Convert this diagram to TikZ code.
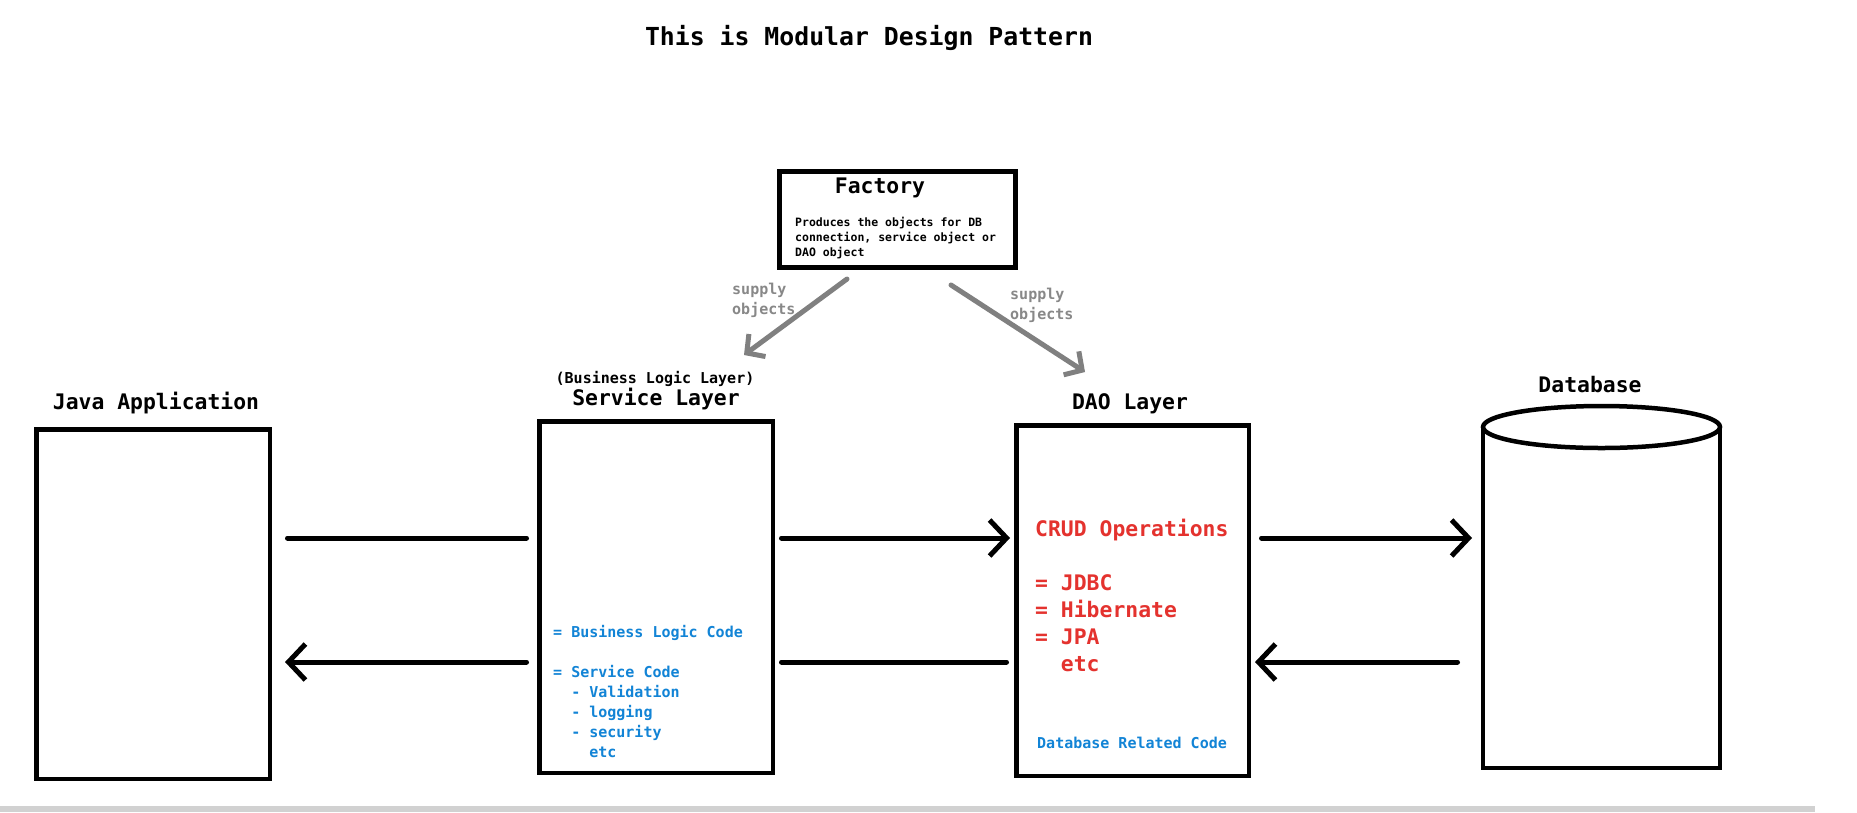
\documentclass[tikz,border=0pt]{standalone}
\usepackage{fontspec}
\newfontfamily\cons{DejaVu Sans Mono}
\usetikzlibrary{arrows.meta}
\definecolor{txtblue}{RGB}{18,132,214}
\definecolor{txtred}{RGB}{228,50,46}
\definecolor{arrgray}{RGB}{128,128,128}
\definecolor{lblgray}{RGB}{136,136,136}
\begin{document}
\begin{tikzpicture}[x=1pt,y=-1pt,
  box/.style={draw=black,line width=4.5pt,inner sep=0pt},
  conn/.style={draw=black,line width=5pt,line cap=round},
  head/.style={-{Straight Barb[length=17pt,width=36pt]}},
  gconn/.style={draw=arrgray,line width=5pt,line cap=round,-{Straight Barb[length=13pt,width=28pt]}},
  lbl/.style={font=\cons\bfseries\fontsize{21.4}{26}\selectfont,inner sep=0pt},
  small/.style={font=\cons\bfseries\fontsize{15}{20}\selectfont,inner sep=0pt,align=left},
]
\useasboundingbox (0,0) rectangle (1857,812);
\fill[white] (0,0) rectangle (1857,812);
\fill[black!18] (0,806) rectangle (1815,812);

% title
\node[inner sep=0pt,font=\cons\bfseries\fontsize{24.8}{30}\selectfont] (title) at (869,38) {This is Modular Design Pattern};

% boxes
\node[box,minimum width=233.5pt,minimum height=349.5pt] (java) at (153,604) {};
\node[box,minimum width=233.5pt,minimum height=351.5pt] (svc) at (656,597) {};
\node[box,minimum width=232.5pt,minimum height=350.5pt] (dao) at (1132.5,600.5) {};
\node[box,line width=5pt,minimum width=236pt,minimum height=96pt] (factory) at (897.5,219.5) {};
\node[inner sep=0pt,outer sep=0pt,minimum width=237pt,minimum height=341pt] (db) at (1601.5,597.5) {};
\draw[line width=4.5pt] (db.north west) -- (db.south west) -- (db.south east) -- (db.north east);
\draw[line width=4.5pt] (db.north) ellipse [x radius=118.5, y radius=21];

% labels above boxes
\node[lbl] (javalbl) at (156,403) {Java Application};
\node[small] (bll) at (655,379) {(Business Logic Layer)};
\node[lbl] (svclbl) at (656,399) {Service Layer};
\node[lbl] (daolbl) at (1130,404) {DAO Layer};
\node[lbl] (dblbl) at (1590,385) {Database};

% factory text
\node[lbl] (factlbl) at (880,188) {Factory};
\node[inner sep=0pt,anchor=west,align=left,font=\cons\bfseries\fontsize{11.5}{15}\selectfont] (factdesc) at (795,238)
  {Produces the objects for DB\\connection, service object or\\DAO object};

% service text
\node[small,anchor=west,text=txtblue] (svctxt) at (553,691)
  {= Business Logic Code\\[20pt]= Service Code\\\phantom{xx}- Validation\\\phantom{xx}- logging\\\phantom{xx}- security\\\phantom{xxxx}etc};

% dao text
\node[inner sep=0pt,anchor=west,align=left,text=txtred,font=\cons\bfseries\fontsize{21.4}{27}\selectfont] (daotxt) at (1035,595.5)
  {CRUD Operations\\[27pt]= JDBC\\= Hibernate\\= JPA\\\phantom{xx}etc};
\node[small,anchor=west,text=txtblue] (daotxt2) at (1037,743) {Database Related Code};

% rows
\coordinate (rowA) at (0,538);
\coordinate (rowB) at (0,662);

\draw[conn,shorten <=15.5pt,shorten >=10.5pt] (java.east |- rowA) -- (svc.west |- rowA);
\draw[conn,head,shorten <=10.5pt,shorten >=13pt] (svc.west |- rowB) -- (java.east |- rowB);
\draw[conn,head,shorten <=6.5pt,shorten >=4pt] (svc.east |- rowA) -- (dao.west |- rowA);
\draw[conn,shorten <=6.5pt,shorten >=7.5pt] (svc.east |- rowB) -- (dao.west |- rowB);
\draw[conn,head,shorten <=10.5pt,shorten >=11pt] (dao.east |- rowA) -- (db.west |- rowA);
\draw[conn,head,shorten <=25.5pt,shorten >=4pt] (db.west |- rowB) -- (dao.east |- rowB);

% factory arrows
\coordinate (fl0) at (847,279);
\coordinate (fl1) at (744,355);
\coordinate (fr0) at (951,285);
\coordinate (fr1) at (1085,372);
\draw[gconn] (fl0) -- (fl1);
\draw[gconn] (fr0) -- (fr1);
\node[small,anchor=west,text=lblgray] (supl) at (732,300) {supply\\objects};
\node[small,anchor=west,text=lblgray] (supr) at (1010,305) {supply\\objects};
\end{tikzpicture}
\end{document}
